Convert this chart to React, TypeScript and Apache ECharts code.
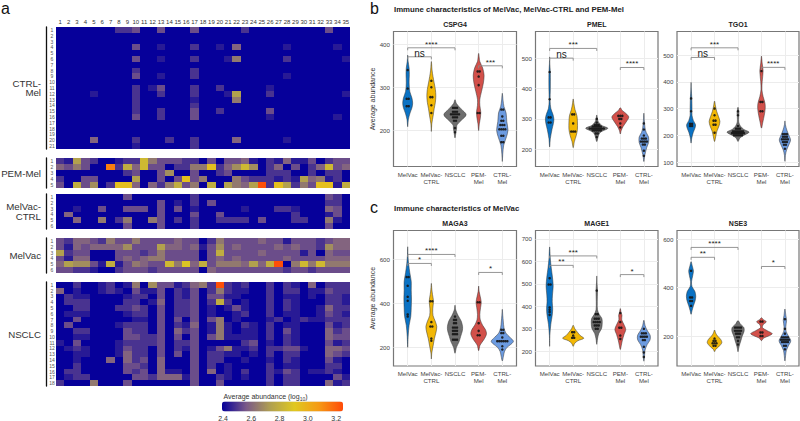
import React, { useEffect, useRef } from "react";
import * as echarts from "echarts";

const FONT = "'Liberation Sans', Arial, sans-serif";

// ---------- heatmap data: one character per cell, level in base 36, 0.05 log10 units per level above 2.4 ----------
const columnLabels = Array.from({ length: 35 }, (_, i) => String(i + 1));
const ctrlMelRows = [
  "00000 00223 00300 03000 00200 00000 00300",
  "00000 00000 00000 00000 00000 00000 00000",
  "00000 00000 00000 00000 00000 00000 00000",
  "00000 00003 00100 02001 04000 00100 00010",
  "00000 00000 00000 00000 00000 00000 00000",
  "00000 00003 00100 02000 15000 00200 00001",
  "00000 00000 00000 00000 00000 00000 00000",
  "00000 00002 00000 02000 00000 00000 00000",
  "00000 00003 00100 02000 00000 00100 00000",
  "00000 00000 00000 00000 00000 00000 00000",
  "00000 00002 01300 02002 00000 10000 00000",
  "00001 00002 00200 02000 17000 20000 00001",
  "00000 00002 00000 01000 05000 00000 00000",
  "00000 00002 00000 02000 00000 00000 00000",
  "00000 00002 00200 03002 00000 30000 00000",
  "00000 00003 00200 03000 00000 10000 00010",
  "00000 00000 00000 00000 00000 00000 00000",
  "00000 00000 00000 00000 00000 00000 00000",
  "00000 00000 00000 00000 00000 00000 00000",
  "00004 00002 00020 02000 04000 00100 00000",
  "00000 00001 00000 02000 00000 00000 00000",
];
const pemMelRows = [
  "21732 00122 95333 22030 33410 21411 30233",
  "43530 0f284 93302 255b2 46960 24030 24934",
  "00000 00023 00360 03002 30000 22200 20220",
  "20033 00007 00303 b3500 05322 21217 45120",
  "30836 02bb4 04258 35080 7547h 2b725 3bb18",
];
const melVacCtrlRows = [
  "00000 00030 00000 02000 00000 00000 00320",
  "00000 00000 00301 02030 00000 00000 00220",
  "00100 30033 30303 01000 00100 02210 00430",
  "04000 00000 00300 03003 00000 00020 00130",
  "00400 50250 05302 02002 22203 00022 00510",
  "00000 00030 00300 02000 00000 00000 00300",
];
const melVacRows = [
  "32443 25335 33334 33025 33334 33133 32344",
  "31434 44463 33744 34136 34333 34343 32644",
  "72330 00333 23533 33038 33334 33331 30433",
  "31440 00343 45533 33034 34333 33433 33444",
  "47663 18135 43395 a4835 55474 8h059 59555",
  "33221 00233 32333 33043 33333 33233 23333",
];
const nsclcRows = [
  "00200 12015 06331 2452h 21200 20210 40222",
  "40100 12103 11302 13025 21100 20220 11322",
  "02110 00012 20302 13033 11000 20110 10221",
  "02220 00022 01402 23028 20100 20210 00221",
  "00220 00223 20302 23010 13100 20210 01422",
  "01110 00012 20302 23010 01200 20110 01321",
  "00300 00001 10303 03035 01000 12012 11222",
  "03000 00122 20302 14015 10210 20110 00312",
  "00220 00032 20304 23015 10110 20310 00423",
  "00110 00033 22303 03035 11110 20210 00433",
  "10300 00122 22302 23000 00230 10210 00312",
  "01210 00132 20302 13013 51120 22331 00443",
  "00110 00142 20303 03022 11010 20220 00432",
  "00100 04042 30400 03022 00100 10210 00310",
  "00200 00033 20400 03020 10000 20110 00220",
  "02200 00032 30411 03040 10200 21320 11210",
  "01220 00003 32444 13002 10100 20220 00031",
  "20005 00030 00000 03003 00000 20220 00412",
];
const colorbarTicks = [2.4, 2.6, 2.8, 3.0, 3.2];
const colorStops = ["#06009a", "#7a5888", "#b0a050", "#e0c820", "#f59a15", "#ff4a08"];

// ---------- violin data: [value, half width in category units] and dots: [value, count] ----------
const violinCategories = ["MelVac", "MelVac-\nCTRL", "NSCLC", "PEM-\nMel", "CTRL-\nMel"];
const violinColors = ["#0a72c4", "#f2b705", "#6e6e6e", "#d2504a", "#6c9be0"];

const cspg4Violins = [
  [[208,0],[225,.03],[240,.1],[252,.18],[263,.21],[275,.18],[290,.09],[310,.06],[330,.07],[345,.06],[360,.02],[375,0]],
  [[197,0],[215,.02],[235,.08],[250,.12],[265,.17],[280,.19],[295,.17],[310,.12],[325,.07],[340,.03],[360,0]],
  [[182,0],[195,.04],[205,.07],[212,.08],[222,.25],[236,.47],[250,.25],[262,.06],[271,0]],
  [[199,0],[215,.03],[228,.07],[242,.09],[258,.05],[272,.05],[290,.12],[310,.2],[328,.23],[345,.17],[360,.05],[379,0]],
  [[127,0],[145,.02],[165,.06],[185,.18],[200,.24],[220,.19],[240,.16],[255,.07],[270,.03],[286,0]],
];
const cspg4Dots = [
  [[340,1],[297,1],[273,2],[256,2]],
  [[315,1],[300,1],[277,2],[258,1],[240,1]],
  [[252,3],[243,3],[237,5],[230,3],[222,2],[205,1],[195,1]],
  [[337,2],[325,1],[305,1],[240,2]],
  [[248,2],[232,1],[222,2],[212,3],[202,4],[187,2],[172,2]],
];
const pmelViolins = [
  [[207,0],[235,.03],[265,.1],[285,.16],[300,.18],[315,.14],[335,.05],[360,.02],[400,.03],[450,.03],[480,.01],[505,0]],
  [[205,0],[225,.05],[245,.13],[265,.18],[290,.18],[310,.16],[330,.08],[350,.03],[366,0]],
  [[225,0],[238,.05],[250,.1],[258,.2],[269,.47],[278,.22],[290,.07],[300,.03],[313,0]],
  [[250,0],[262,.04],[275,.12],[290,.25],[306,.36],[318,.24],[328,.08],[337,0]],
  [[159,0],[175,.03],[190,.07],[205,.12],[222,.2],[240,.2],[255,.1],[270,.05],[295,.02],[319,0]],
];
const pmelDots = [
  [[455,1],[365,1],[305,2],[288,2]],
  [[315,2],[285,1],[258,3]],
  [[300,1],[288,1],[280,3],[275,5],[268,8],[262,5],[252,2],[240,1]],
  [[310,3],[300,2],[285,1],[272,1]],
  [[285,1],[265,1],[245,1],[235,3],[225,4],[215,2],[195,1],[178,1]],
];
const tgo1Violins = [
  [[171,0],[190,.03],[210,.09],[228,.17],[240,.19],[255,.1],[275,.04],[300,.04],[340,.03],[370,.01],[398,0]],
  [[177,0],[195,.05],[215,.1],[235,.19],[252,.23],[270,.17],[290,.09],[310,.04],[328,0]],
  [[177,0],[190,.08],[200,.25],[212,.47],[222,.25],[235,.1],[250,.03],[270,.03],[285,.04],[305,0]],
  [[227,0],[250,.06],[275,.12],[300,.16],[320,.15],[345,.07],[370,.02],[400,.03],[440,.07],[470,.03],[496,0]],
  [[103,0],[125,.02],[145,.07],[165,.17],[183,.24],[200,.17],[220,.08],[240,.02],[254,0]],
];
const tgo1Dots = [
  [[338,1],[290,1],[243,2],[235,2]],
  [[300,1],[275,1],[255,2],[240,2],[210,1]],
  [[290,1],[275,1],[235,1],[225,3],[215,6],[208,7],[200,5]],
  [[440,1],[325,2],[290,2]],
  [[205,3],[195,3],[185,4],[175,3],[165,2],[150,1]],
];
const maga3Violins = [
  [[200,0],[250,.02],[300,.06],[340,.13],[380,.15],[420,.16],[460,.15],[500,.15],[540,.09],[580,.04],[620,.01],[658,0]],
  [[147,0],[175,.02],[210,.08],[240,.13],[270,.2],[295,.23],[320,.16],[345,.07],[375,.06],[410,.09],[440,.05],[465,.02],[491,0]],
  [[173,0],[200,.06],[225,.17],[250,.24],[275,.31],[295,.32],[320,.26],[345,.13],[370,.03],[392,0]],
  [[185,0],[210,.06],[235,.22],[260,.33],[280,.29],[300,.17],[325,.07],[350,.05],[380,.08],[405,.11],[430,.07],[455,.02],[479,0]],
  [[138,0],[160,.05],[180,.09],[200,.2],[215,.38],[228,.47],[245,.33],[265,.15],[290,.07],[320,.04],[345,.02],[373,0]],
];
const maga3Dots = [
  [[520,2],[480,1],[430,1],[412,1],[350,1],[340,1]],
  [[410,2],[315,1],[295,2],[240,1],[230,1]],
  [[340,1],[325,2],[310,2],[290,3],[275,3],[260,3],[235,3]],
  [[405,2],[310,1],[275,1],[255,2]],
  [[280,2],[265,2],[245,1],[228,6],[205,1],[190,1]],
];
const mage1Violins = [
  [[222,0],[270,.01],[320,.05],[360,.11],[390,.13],[420,.11],[450,.12],[490,.15],[530,.12],[570,.07],[610,.03],[664,0]],
  [[222,0],[235,.06],[247,.2],[258,.45],[270,.3],[285,.18],[300,.07],[316,0]],
  [[231,0],[255,.03],[280,.09],[300,.2],[320,.23],[345,.22],[365,.1],[385,.03],[420,.02],[470,.03],[505,.01],[535,0]],
  [[208,0],[225,.04],[250,.09],[275,.16],[297,.23],[320,.15],[340,.06],[360,.07],[375,.03],[390,0]],
  [[156,0],[180,.03],[205,.05],[230,.14],[250,.26],[270,.27],[295,.13],[315,.05],[338,0]],
];
const mage1Dots = [
  [[525,1],[497,2],[395,1],[385,1],[375,1],[362,1]],
  [[285,2],[270,1],[260,2]],
  [[470,1],[365,2],[345,3],[330,4],[315,3],[300,2]],
  [[370,1],[330,1],[305,2],[270,1],[255,1]],
  [[300,1],[280,3],[265,4],[250,2],[220,1],[195,1],[175,1]],
];
const nse3Violins = [
  [[290,0],[305,.04],[325,.1],[345,.17],[365,.2],[385,.16],[405,.04],[425,.02],[450,.07],[470,.1],[490,.05],[508,0]],
  [[135,0],[145,.05],[155,.17],[172,.31],[185,.27],[200,.13],[212,.05],[225,0]],
  [[135,0],[150,.03],[165,.07],[180,.12],[200,.18],[220,.26],[235,.25],[250,.1],[264,0]],
  [[181,0],[192,.1],[200,.3],[210,.46],[222,.25],[235,.04],[248,.08],[259,.21],[268,.08],[276,0]],
  [[97,0],[120,.03],[140,.06],[160,.15],[180,.25],[200,.15],[220,.05],[240,.04],[265,.07],[285,.04],[312,0]],
];
const nse3Dots = [
  [[470,1],[360,2],[345,2],[325,1]],
  [[190,1],[180,2],[170,3],[160,2]],
  [[235,4],[222,4],[210,3],[195,2],[180,1],[165,1]],
  [[260,2],[215,2],[200,2]],
  [[270,1],[230,1],[210,1],[195,4],[185,5],[175,4],[160,2],[145,1]],
];

// brackets: [from category, to category, value, label]
const cspg4Brackets = [[1,2,371,"ns"],[1,3,392,"****"],[4,5,350,"***"]];
const pmelBrackets = [[1,2,501,"ns"],[1,3,533,"***"],[4,5,470,"****"]];
const tgo1Brackets = [[1,2,491,"ns"],[1,3,527,"***"],[4,5,454,"****"]];
const maga3Brackets = [[1,2,582,"*"],[1,3,623,"****"],[4,5,541,"*"]];
const mage1Brackets = [[1,2,582,"**"],[1,3,624,"***"],[4,5,541,"*"]];
const nse3Brackets = [[1,2,526,"**"],[1,3,567,"****"],[4,5,488,"*"]];

const panels: any[] = [
  { title: "CSPG4", left: 393.5, width: 123, top: 31.5, height: 135, min: 115.3, max: 430, ticks: [200,300,400], violins: cspg4Violins, dots: cspg4Dots, brackets: cspg4Brackets, name: "Average abundance" },
  { title: "PMEL", left: 535.5, width: 122.5, top: 31.5, height: 135, min: 142.6, max: 589, ticks: [200,300,400,500], violins: pmelViolins, dots: pmelDots, brackets: pmelBrackets },
  { title: "TGO1", left: 677, width: 122, top: 31.5, height: 135, min: 83.6, max: 588, ticks: [100,200,300,400,500], violins: tgo1Violins, dots: tgo1Dots, brackets: tgo1Brackets },
  { title: "MAGA3", left: 393.5, width: 123, top: 230.5, height: 135.5, min: 115, max: 732, ticks: [200,400,600], violins: maga3Violins, dots: maga3Dots, brackets: maga3Brackets, name: "Average abundance" },
  { title: "MAGE1", left: 535.5, width: 122.5, top: 230.5, height: 135.5, min: 134.7, max: 737, ticks: [200,300,400,500,600,700], violins: mage1Violins, dots: mage1Dots, brackets: mage1Brackets },
  { title: "NSE3", left: 677, width: 122, top: 230.5, height: 135.5, min: 76, max: 637, ticks: [200,400,600], violins: nse3Violins, dots: nse3Dots, brackets: nse3Brackets },
];

const heatmaps: any[] = [
  { label: "CTRL-\nMel", rows: ctrlMelRows, top: 27, height: 122 },
  { label: "PEM-Mel", rows: pemMelRows, top: 158, height: 30 },
  { label: "MelVac-\nCTRL", rows: melVacCtrlRows, top: 194, height: 35 },
  { label: "MelVac", rows: melVacRows, top: 238, height: 35 },
  { label: "NSCLC", rows: nsclcRows, top: 282, height: 104 },
];

function cellsOf(rows: string[]) {
  const out: number[][] = [];
  rows.forEach((row, r) => {
    row.replace(/ /g, "").split("").forEach((ch, c) => {
      out.push([c, r, 2.4 + parseInt(ch, 36) * 0.05]);
    });
  });
  return out;
}

function buildOption() {
  const grid: any[] = [];
  const xAxis: any[] = [];
  const yAxis: any[] = [];
  const series: any[] = [];
  const graphic: any[] = [];

  heatmaps.forEach((h, i) => {
    grid.push({ left: 56, width: 294, top: h.top, height: h.height, show: false });
    xAxis.push({
      type: "category", gridIndex: i, data: columnLabels, position: "top", show: i === 0,
      axisLine: { show: false }, axisTick: { show: false }, splitLine: { show: false },
      axisLabel: { interval: 0, fontSize: 6, fontFamily: FONT, color: "#333", margin: 2 },
    });
    yAxis.push({
      type: "category", gridIndex: i, inverse: true, offset: 10,
      data: h.rows.map((_: string, r: number) => String(r + 1)),
      axisLine: { show: true, onZero: false, lineStyle: { color: "#111", width: 1.3 } },
      axisTick: { show: false }, splitLine: { show: false },
      axisLabel: { inside: true, interval: 0, align: "center", margin: 6, fontSize: 5, fontFamily: FONT, color: "#555" },
    });
    series.push({
      type: "custom", xAxisIndex: i, yAxisIndex: i, data: cellsOf(h.rows), silent: true,
      encode: { x: 0, y: 1 },
      renderItem: (_p: any, api: any) => {
        const c = api.coord([api.value(0), api.value(1)]);
        const s = api.size([1, 1]);
        const x0 = Math.round(c[0] - s[0] / 2);
        const x1 = Math.round(c[0] + s[0] / 2);
        const y0 = Math.round(c[1] - s[1] / 2);
        const y1 = Math.round(c[1] + s[1] / 2);
        return {
          type: "rect",
          shape: { x: x0, y: y0, width: x1 - x0, height: y1 - y0 },
          style: { fill: api.visual("color"), stroke: null },
        };
      },
    });
    graphic.push({
      type: "text", silent: true,
      style: {
        text: h.label, x: 41, y: h.top + h.height / 2, fill: "#333", textAlign: "right", textVerticalAlign: "middle",
        font: `9.7px ${FONT}`, lineHeight: 9.8,
      },
    });
  });

  panels.forEach((p, k) => {
    const ax = heatmaps.length + k;
    grid.push({ left: p.left, width: p.width, top: p.top, height: p.height, show: true, borderColor: "#777", borderWidth: 1.2, backgroundColor: "#fff" });
    xAxis.push({
      type: "value", gridIndex: ax, min: 0.4, max: 5.6,
      axisLine: { show: false },
      axisTick: { show: false, customValues: [1,2,3,4,5] },
      splitLine: { show: true, lineStyle: { color: "#ececec", width: 1 } },
      axisLabel: {
        customValues: [1,2,3,4,5], margin: 4, fontSize: 6.1, fontFamily: FONT, color: "#444", lineHeight: 7,
        formatter: (v: number) => violinCategories[Math.round(v) - 1],
      },
    });
    yAxis.push({
      type: "value", gridIndex: ax, min: p.min, max: p.max,
      axisLine: { show: false },
      axisTick: { show: false, customValues: p.ticks },
      splitLine: { show: true, lineStyle: { color: "#ececec", width: 1 } },
      axisLabel: { customValues: p.ticks, margin: 3.5, fontSize: 6.2, fontFamily: FONT, color: "#444" },
      name: p.name, nameLocation: "middle", nameGap: 15,
      nameTextStyle: { fontSize: 7, fontFamily: FONT, color: "#333" },
    });
    series.push({
      type: "custom", xAxisIndex: ax, yAxisIndex: ax, silent: true, clip: false,
      data: p.violins.map((v: number[][], c: number) => [c + 1, v[0][0]]),
      renderItem: (params: any, api: any) => {
        const c = params.dataIndex;
        const prof = p.violins[c];
        const left = prof.map(([v, w]: number[]) => api.coord([c + 1 - w, v]));
        const right = prof.slice().reverse().map(([v, w]: number[]) => api.coord([c + 1 + w, v]));
        return {
          type: "polygon",
          shape: { points: left.concat(right.slice(1, -1)), smooth: 0.3 },
          style: { fill: violinColors[c], stroke: "#333", lineWidth: 0.5 },
        };
      },
    });
    const dotData: number[][] = [];
    p.dots.forEach((list: number[][], c: number) => {
      list.forEach(([v, n]) => {
        for (let j = 0; j < n; j++) dotData.push([c + 1 + (j - (n - 1) / 2) * 0.085, v]);
      });
    });
    series.push({
      type: "scatter", xAxisIndex: ax, yAxisIndex: ax, silent: true, data: dotData,
      symbol: "circle", symbolSize: 2.5, itemStyle: { color: "#151515", opacity: 0.9 }, z: 4,
    });
    series.push({
      type: "custom", xAxisIndex: ax, yAxisIndex: ax, silent: true, clip: false, z: 5,
      data: p.brackets.map((b: any[]) => [b[0], b[2]]),
      renderItem: (params: any, api: any) => {
        const b = p.brackets[params.dataIndex];
        const a = api.coord([b[0], b[2]]);
        const e = api.coord([b[1], b[2]]);
        const ns = b[3] === "ns";
        return {
          type: "group",
          children: [
            {
              type: "polyline",
              shape: { points: [[a[0], a[1] + 2.5], [a[0], a[1]], [e[0], a[1]], [e[0], a[1] + 2.5]] },
              style: { stroke: "#8a8a8a", lineWidth: 0.9, fill: "none" },
            },
            {
              type: "text",
              style: {
                text: b[3], x: (a[0] + e[0]) / 2, y: a[1] - (ns ? 3.8 : 3.5),
                textAlign: "center", textVerticalAlign: "middle", fill: "#222",
                font: ns ? `10px ${FONT}` : `8px ${FONT}`,
              },
            },
          ],
        };
      },
    });
    graphic.push({
      type: "text", silent: true,
      style: {
        text: p.title, x: p.left + p.width / 2, y: p.top - 7, textAlign: "center", textVerticalAlign: "middle",
        fill: "#222", font: `bold 7px ${FONT}`,
      },
    });
  });

  const letter = (text: string, x: number, y: number) => ({
    type: "text", silent: true,
    style: { text, x, y, fill: "#111", font: `16px ${FONT}`, textVerticalAlign: "middle" },
  });
  graphic.push(letter("a", 1, 8.5), letter("b", 370, 8.5), letter("c", 370, 207));
  const heading = (text: string, y: number) => ({
    type: "text", silent: true,
    style: { text, x: 394, y, fill: "#222", font: `bold 7.8px ${FONT}`, textVerticalAlign: "middle" },
  });
  graphic.push(
    heading("Immune characteristics of MelVac, MelVac-CTRL and PEM-Mel", 9),
    heading("Immune characteristics of MelVac", 208.5),
  );
  graphic.push({
    type: "text", silent: true,
    style: {
      text: "Average abundance (log{sub|10})", x: 223.5, y: 396.5, fill: "#333", textVerticalAlign: "middle",
      font: `7px ${FONT}`,
      rich: { sub: { fontSize: 5, fontFamily: FONT, fill: "#333", padding: [4, 0, 0, 0] } },
    },
  });
  colorbarTicks.forEach((t) => {
    graphic.push({
      type: "text", silent: true,
      style: {
        text: t.toFixed(1), x: 223 + ((t - 2.4) / 0.2) * 28.3, y: 418, fill: "#333", textAlign: "center", textVerticalAlign: "middle",
        font: `7px ${FONT}`,
      },
    });
  });

  return {
    animation: false,
    backgroundColor: "#fff",
    textStyle: { fontFamily: FONT },
    grid, xAxis, yAxis, series, graphic,
    visualMap: {
      type: "continuous", min: 2.4, max: 3.26, seriesIndex: [0, 1, 2, 3, 4], dimension: 2,
      orient: "horizontal", left: 222, top: 401.5, itemWidth: 10, itemHeight: 121, padding: 0,
      calculable: false, realtime: false, text: null, showLabel: false, hoverLink: false, silent: true,
      inRange: { color: colorStops },
    },
  };
}

export default function App() {
  const ref = useRef<HTMLDivElement>(null);
  useEffect(() => {
    const chart = echarts.init(ref.current!, undefined, { renderer: "svg" });
    chart.setOption(buildOption() as any);
    return () => chart.dispose();
  }, []);
  return <div ref={ref} style={{ position: "absolute", left: 0, top: 0, width: 800, height: 421 }} />;
}
